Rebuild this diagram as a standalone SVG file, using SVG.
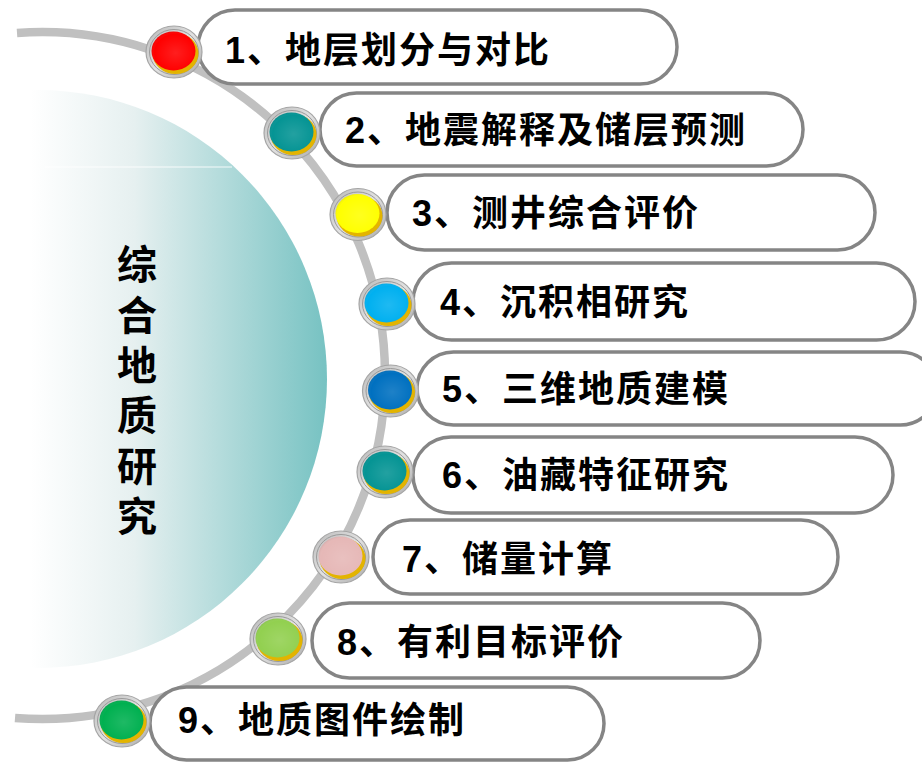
<svg xmlns="http://www.w3.org/2000/svg" width="922" height="763" viewBox="0 0 922 763">
<defs>
<linearGradient id="hemi" gradientUnits="userSpaceOnUse" x1="30" y1="0" x2="328" y2="0">
<stop offset="0" stop-color="#ffffff"/>
<stop offset="0.35" stop-color="#e6f0f0"/>
<stop offset="1" stop-color="#76c2c2"/>
</linearGradient>
<linearGradient id="ring" x1="0" y1="0" x2="1" y2="1">
<stop offset="0" stop-color="#b8b8b8"/>
<stop offset="0.5" stop-color="#e2e2e2"/>
<stop offset="1" stop-color="#a8a8a8"/>
</linearGradient>
<radialGradient id="gloss" cx="0.55" cy="0.55" r="0.6">
<stop offset="0" stop-color="#ffffff" stop-opacity="0.12"/>
<stop offset="0.8" stop-color="#ffffff" stop-opacity="0"/>
<stop offset="1" stop-color="#000000" stop-opacity="0.12"/>
</radialGradient>
<g id="bead">
<ellipse cx="0" cy="0" rx="28" ry="26" fill="url(#ring)" stroke="#a5a5a5" stroke-width="1.2"/>
<ellipse cx="0" cy="0" rx="24.5" ry="22.5" fill="none" stroke="#9a9a9a" stroke-width="1"/>
<ellipse cx="1.5" cy="1.5" rx="23" ry="20.5" fill="#e3b400"/>
</g>
</defs>
<style>
.pill{fill:#ffffff;stroke:#858585;stroke-width:3.5}
.lbl{font-family:"Liberation Sans","Noto Sans CJK SC",sans-serif;font-weight:bold;font-size:36px;letter-spacing:2px;fill:#000000}
.vt{font-family:"Noto Sans CJK SC",sans-serif;font-weight:bold;font-size:40px;letter-spacing:10.4px;fill:#000000;writing-mode:vertical-rl}
.dot{stroke:none}
</style>
<rect x="0" y="0" width="922" height="763" fill="#ffffff"/>
<g id="hub">
<circle cx="38" cy="379" r="289" fill="url(#hemi)"/>
<line x1="45" y1="167" x2="232" y2="167" stroke="#ffffff" stroke-width="1" stroke-opacity="0.85"/>
<text class="vt" x="137" y="244">综合地质研究</text>
</g>
<g id="connectors">
<path d="M17 33 A343 343 0 0 1 385 375 A343 343 0 0 1 15 718" fill="none" stroke="#c0c0c0" stroke-width="8.5" stroke-linecap="butt"/>
</g>
<g id="n1">
<rect class="pill" x="198" y="10" width="479" height="74" rx="37"/>
<use href="#bead" x="174" y="52"/>
<ellipse class="dot" cx="173.5" cy="51" rx="22" ry="19.5" fill="#ff0000"/>
<ellipse cx="173.5" cy="51" rx="22" ry="19.5" fill="url(#gloss)"/>
<text class="lbl" x="225" y="63">1、地层划分与对比</text>
</g>
<g id="n2">
<rect class="pill" x="320" y="93" width="483" height="73" rx="36.5"/>
<use href="#bead" x="292" y="133"/>
<ellipse class="dot" cx="291.5" cy="132" rx="22" ry="19.5" fill="#059494"/>
<ellipse cx="291.5" cy="132" rx="22" ry="19.5" fill="url(#gloss)"/>
<text class="lbl" x="345" y="143">2、地震解释及储层预测</text>
</g>
<g id="n3">
<rect class="pill" x="387" y="175" width="488" height="75" rx="37.5"/>
<use href="#bead" x="358" y="214.5"/>
<ellipse class="dot" cx="357.5" cy="213.5" rx="22" ry="19.5" fill="#ffff00"/>
<ellipse cx="357.5" cy="213.5" rx="22" ry="19.5" fill="url(#gloss)"/>
<text class="lbl" x="412" y="226">3、测井综合评价</text>
</g>
<g id="n4">
<rect class="pill" x="413" y="263" width="502" height="77" rx="38.5"/>
<use href="#bead" x="387" y="304"/>
<ellipse class="dot" cx="386.5" cy="303" rx="22" ry="19.5" fill="#00b0f0"/>
<ellipse cx="386.5" cy="303" rx="22" ry="19.5" fill="url(#gloss)"/>
<text class="lbl" x="440" y="315">4、沉积相研究</text>
</g>
<g id="n5">
<rect class="pill" x="417" y="352" width="520" height="73" rx="36.5"/>
<use href="#bead" x="390.5" y="391"/>
<ellipse class="dot" cx="390" cy="390" rx="22" ry="19.5" fill="#0070c0"/>
<ellipse cx="390" cy="390" rx="22" ry="19.5" fill="url(#gloss)"/>
<text class="lbl" x="442" y="402">5、三维地质建模</text>
</g>
<g id="n6">
<rect class="pill" x="413" y="437" width="480" height="76" rx="38"/>
<use href="#bead" x="385" y="472"/>
<ellipse class="dot" cx="384.5" cy="471" rx="22" ry="19.5" fill="#059494"/>
<ellipse cx="384.5" cy="471" rx="22" ry="19.5" fill="url(#gloss)"/>
<text class="lbl" x="442" y="488">6、油藏特征研究</text>
</g>
<g id="n7">
<rect class="pill" x="373" y="520" width="465" height="74" rx="37"/>
<use href="#bead" x="341" y="557"/>
<ellipse class="dot" cx="340.5" cy="556" rx="22" ry="19.5" fill="#e6b8b7"/>
<ellipse cx="340.5" cy="556" rx="22" ry="19.5" fill="url(#gloss)"/>
<text class="lbl" x="402" y="572">7、储量计算</text>
</g>
<g id="n8">
<rect class="pill" x="312" y="603" width="448" height="75" rx="37.5"/>
<use href="#bead" x="278" y="639"/>
<ellipse class="dot" cx="277.5" cy="638" rx="22" ry="19.5" fill="#92d050"/>
<ellipse cx="277.5" cy="638" rx="22" ry="19.5" fill="url(#gloss)"/>
<text class="lbl" x="337" y="655">8、有利目标评价</text>
</g>
<g id="n9">
<rect class="pill" x="150" y="687" width="454" height="73" rx="36.5"/>
<use href="#bead" x="122" y="721"/>
<ellipse class="dot" cx="121.5" cy="720" rx="22" ry="19.5" fill="#00b050"/>
<ellipse cx="121.5" cy="720" rx="22" ry="19.5" fill="url(#gloss)"/>
<text class="lbl" x="178" y="733">9、地质图件绘制</text>
</g>
</svg>
